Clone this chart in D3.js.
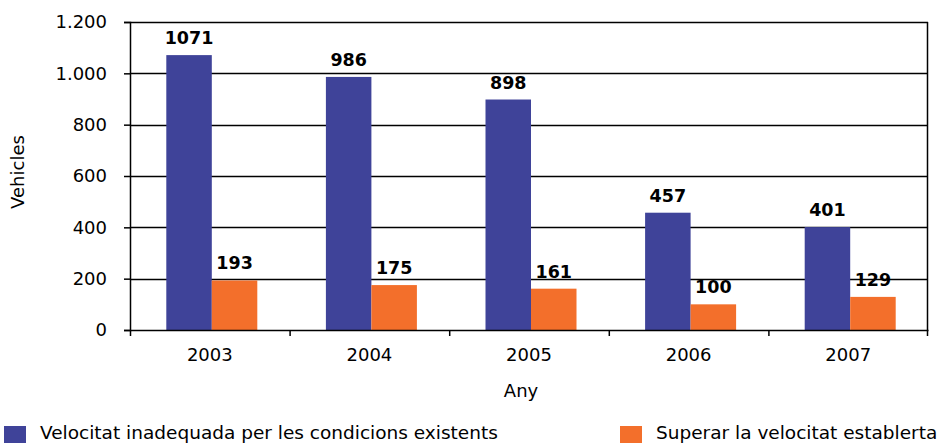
<!DOCTYPE html>
<html>
<head>
<meta charset="utf-8">
<script src="https://cdn.jsdelivr.net/npm/d3@7"></script>
<style>
  body { margin: 0; background: #fff; }
  svg { display: block; font-family: "DejaVu Sans", Verdana, sans-serif; }
</style>
</head>
<body>
<div id="chart"></div>
<script>
const years = ['2003', '2004', '2005', '2006', '2007'];
const inadequada = [1071, 986, 898, 457, 401];
const superar = [193, 175, 161, 100, 129];
const yTicks = [0, 200, 400, 600, 800, 1000, 1200];
const seriesNames = ['Velocitat inadequada per les condicions existents', 'Superar la velocitat establerta'];
const colors = ['#3F4399', '#F36F2B'];

const width = 940;
const height = 443;
const margin = { top: 22, right: 12, bottom: 113, left: 130 };
const innerW = width - margin.left - margin.right;
const innerH = height - margin.top - margin.bottom;
const fontSize = 18;

const svg = d3.select('#chart').append('svg')
  .attr('width', width)
  .attr('height', height);

const g = svg.append('g').attr('transform', `translate(${margin.left},${margin.top})`);

const x = d3.scaleBand().domain(years).range([0, innerW]);
const y = d3.scaleLinear().domain([0, 1200]).range([innerH, 0]);
const barW = 45.5;
const offset = (x.bandwidth() - 2 * barW) / 2 + 2;

// gridlines
g.selectAll('.grid').data(yTicks.slice(1)).enter().append('line')
  .attr('x1', 0).attr('x2', innerW)
  .attr('y1', d => Math.round(y(d)) + 0.5).attr('y2', d => Math.round(y(d)) + 0.5)
  .attr('stroke', '#000').attr('stroke-width', 1.3);

// right border
g.append('line')
  .attr('x1', innerW - 0.5).attr('x2', innerW - 0.5)
  .attr('y1', 0).attr('y2', innerH)
  .attr('stroke', '#000').attr('stroke-width', 1.5);

const data = years.map((yr, i) => ({ yr, vals: [inadequada[i], superar[i]] }));

const groups = g.selectAll('.grp').data(data).enter().append('g')
  .attr('transform', d => `translate(${x(d.yr) + offset},0)`);

groups.selectAll('rect').data(d => d.vals).enter().append('rect')
  .attr('x', (d, i) => i * barW)
  .attr('y', d => y(d))
  .attr('width', barW)
  .attr('height', d => innerH - y(d))
  .attr('fill', (d, i) => colors[i]);

groups.selectAll('text').data(d => d.vals).enter().append('text')
  .attr('x', (d, i) => i * barW + barW / 2)
  .attr('y', d => y(d) - 11)
  .attr('text-anchor', 'middle')
  .attr('font-size', 17.5)
  .attr('font-weight', 'bold')
  .text(d => d);

// axes
const fmt = d3.formatLocale({ decimal: ',', thousands: '.', grouping: [3], currency: ['', ''] }).format(',');
const yAxis = g.append('g')
  .call(d3.axisLeft(y).tickValues(yTicks).tickFormat(fmt).tickSize(6).tickPadding(17));
yAxis.selectAll('text').attr('font-size', fontSize).attr('fill', '#000').style('font-family', 'DejaVu Sans');
yAxis.selectAll('line,path').attr('stroke', '#000').attr('stroke-width', 1.5);

const xAxis = g.append('g').attr('transform', `translate(0,${innerH})`)
  .call(d3.axisBottom(x).tickSize(0).tickPadding(18));
xAxis.select('.domain').attr('stroke', '#000').attr('stroke-width', 1.5);
xAxis.selectAll('text').attr('font-size', fontSize).attr('fill', '#000').style('font-family', 'DejaVu Sans');

// category boundary ticks
g.selectAll('.xtick').data(years.concat(['end'])).enter().append('line')
  .attr('x1', (d, i) => i * x.step() + 0.5 - (i === years.length ? 1 : 0))
  .attr('x2', (d, i) => i * x.step() + 0.5 - (i === years.length ? 1 : 0))
  .attr('y1', innerH).attr('y2', innerH + 6)
  .attr('stroke', '#000').attr('stroke-width', 1.5);

// axis titles
svg.append('text')
  .attr('transform', `translate(24,${margin.top + 150}) rotate(-90)`)
  .attr('text-anchor', 'middle')
  .attr('font-size', fontSize)
  .text('Vehicles');

svg.append('text')
  .attr('x', 521)
  .attr('y', 397)
  .attr('text-anchor', 'middle')
  .attr('font-size', fontSize)
  .text('Any');

// legend
const legendX = [4, 620];
const legend = svg.selectAll('.leg').data(seriesNames).enter().append('g')
  .attr('transform', (d, i) => `translate(${legendX[i]},426)`);
legend.append('rect')
  .attr('width', 22).attr('height', 17)
  .attr('fill', (d, i) => colors[i]);
legend.append('text')
  .attr('x', 36).attr('y', 13)
  .attr('font-size', 18.5)
  .text(d => d);
</script>
</body>
</html>
